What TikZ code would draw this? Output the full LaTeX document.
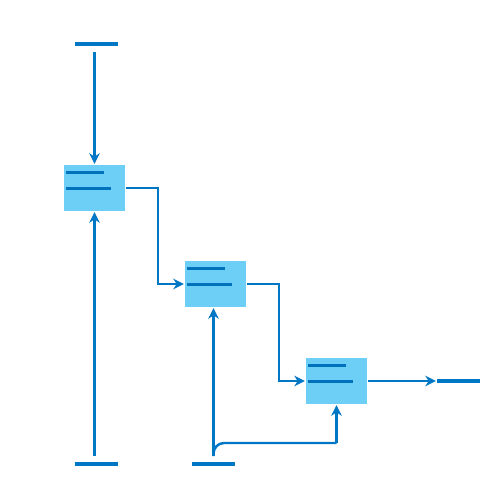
\documentclass[tikz,border=0pt]{standalone}
\usepackage{tikz}
\usetikzlibrary{positioning, arrows.meta}
\definecolor{flowline}{HTML}{0077C5}
\definecolor{flowbox}{HTML}{6DCFF6}
\definecolor{flowbar}{HTML}{0071BB}
\tikzset{
every path/.style={line width=1.4pt}
, wire/.style={draw=flowline, line width=1.4pt, -{Stealth[length=6pt, width=6pt]}}
, terminal/.style={fill=flowline, inner sep=0, minimum width=0.86cm, minimum height=0.09cm}
, unit/.style={fill=flowbox, inner sep=0, minimum width=1.22cm, minimum height=0.92cm}}

\begin{document}
\begin{tikzpicture}[x=0.02cm, y=-0.02cm]
\useasboundingbox (0,0) rectangle (500,500);
% boxes of the cascade
\node[unit] at (94.5, 188) (box1) {};
\node[unit] at (215.5, 284) (box2) {};
\node[unit] at (336.5, 381) (box3) {};
% source and sink bars
\node[terminal] at (96.5, 44) (top) {};
\node[terminal] at (96.5, 464) (bot1) {};
\node[terminal] at (213.5, 464) (bot2) {};
\node[terminal] at (458.5, 381) (out) {};
% the two lines inside each box
\foreach \b in {box1, box2, box3} {
  \fill[flowbar] ([shift={(3,7)}]\b.north west) rectangle ++(38,3.5);
  \fill[flowbar] ([shift={(3,23)}]\b.north west) rectangle ++(45,3.5);
}
\draw[wire, shorten <=2.5pt] (top.south -| box1.north) -- (box1.north);
\draw[wire, shorten <=2.5pt] (bot1.north -| box1.south) -- (box1.south);
\draw[wire, shorten <=2.5pt] (bot2.north) -- (bot2.north |- box2.south);
\draw[wire] (box1.east) -- ++(32,0) |- (box2.west);
\draw[wire] (box2.east) -- ++(32,0) |- (box3.west);
\draw[wire] (box3.east) -- (out.west);
% branch from the second source to the last box
\coordinate (split) at (box3.south |- 0,443);
\draw[draw=flowline, rounded corners=6, shorten <=2.5pt] (bot2.north) |- (split);
\draw[wire] (split) -- (box3.south);
\end{tikzpicture}
\end{document}
